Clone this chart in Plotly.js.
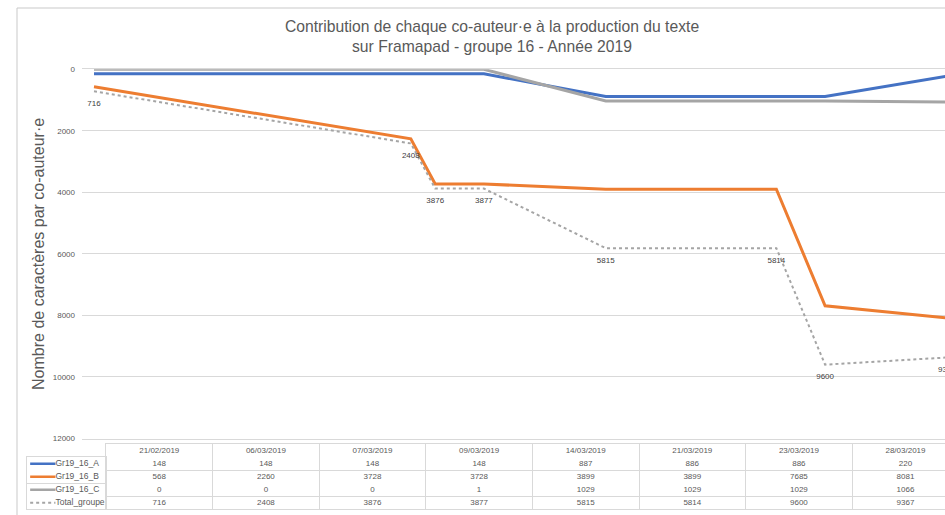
<!DOCTYPE html>
<html>
<head>
<meta charset="utf-8">
<script src="https://cdn.plot.ly/plotly-3.0.1.min.js"></script>
<style>html,body{margin:0;padding:0;background:#fff;}#chart{width:945px;height:515px;}</style>
</head>
<body>
<div id="chart"></div>
<script>
// ---- Data ----
const dates = ['21/02/2019','06/03/2019','07/03/2019','09/03/2019','14/03/2019','21/03/2019','23/03/2019','28/03/2019'];
const serieA = [148,148,148,148,887,886,886,220];
const serieB = [568,2260,3728,3728,3899,3899,7685,8081];
const serieC = [0,0,0,1,1029,1029,1029,1066];
const totalGroupe = [716,2408,3876,3877,5815,5814,9600,9367];
const seriesNames = ['Gr19_16_A','Gr19_16_B','Gr19_16_C','Total_groupe'];
const seriesColors = ['#4472C4','#ED7D31','#A5A5A5','#A5A5A5'];
const yTicks = [0,2000,4000,6000,8000,10000,12000];
const titleText = 'Contribution de chaque co-auteur·e à la production du texte<br>sur Framapad - groupe 16 - Année 2019';
const yTitleText = 'Nombre de caractères par co-auteur·e';

// ---- Helpers ----
const W = 945, H = 515;
const px = x => x / W;
const py = y => 1 - y / H;
const toISO = d => { const p = d.split('/'); return p[2] + '-' + p[1] + '-' + p[0]; };
const isoDates = dates.map(toISO);
const allSeries = [serieA, serieB, serieC, totalGroupe];
const FONT = 'Liberation Sans, Arial, sans-serif';
const GRID = '#D9D9D9';
const TXT = '#595959';

const traces = [];
// main lines
allSeries.forEach((vals, i) => {
  const isTotal = i === 3;
  const t = {
    x: isoDates, y: vals, xaxis: 'x', yaxis: 'y',
    type: 'scatter',
    mode: 'lines',
    line: { color: seriesColors[i], width: isTotal ? 2 : 3, dash: isTotal ? 'dot' : 'solid' },
    hoverinfo: 'skip', showlegend: false
  };
  if (isTotal) {
    t.mode = 'lines+markers+text';
    t.marker = { size: 12, color: 'rgba(0,0,0,0)' };
    t.text = vals.map(String);
    t.textposition = 'bottom center';
    t.textfont = { family: FONT, size: 8, color: '#404040' };
  }
  traces.push(t);
});

// data table: header row + value rows on categorical axes
const rowKeys = ['header'].concat(seriesNames);
traces.push({
  x: dates, y: dates.map(() => 'header'), xaxis: 'x2', yaxis: 'y2',
  type: 'scatter', mode: 'text', text: dates,
  textfont: { family: FONT, size: 8, color: TXT },
  hoverinfo: 'skip', showlegend: false, cliponaxis: false
});
allSeries.forEach((vals, i) => {
  traces.push({
    x: dates, y: dates.map(() => seriesNames[i]), xaxis: 'x2', yaxis: 'y2',
    type: 'scatter', mode: 'text', text: vals.map(String),
    textfont: { family: FONT, size: 8, color: TXT },
    hoverinfo: 'skip', showlegend: false, cliponaxis: false
  });
});
// legend column of the table
seriesNames.forEach((name, i) => {
  traces.push({
    x: [0.04, 0.36], y: [name, name], xaxis: 'x3', yaxis: 'y3',
    type: 'scatter', mode: 'lines',
    line: { color: seriesColors[i], width: i === 3 ? 2 : 2.5, dash: i === 3 ? 'dot' : 'solid' },
    hoverinfo: 'skip', showlegend: false
  });
  traces.push({
    x: [0.36], y: [name], xaxis: 'x3', yaxis: 'y3',
    type: 'scatter', mode: 'text', text: [name], textposition: 'middle right',
    textfont: { family: FONT, size: 8.5, color: TXT },
    hoverinfo: 'skip', showlegend: false, cliponaxis: false
  });
});

const colW = 106.6;
const layout = {
  width: W, height: H,
  margin: { l: 0, r: 0, t: 0, b: 0 },
  paper_bgcolor: '#fff', plot_bgcolor: 'rgba(0,0,0,0)',
  font: { family: FONT, color: TXT },
  showlegend: false,
  title: {
    text: titleText,
    font: { family: FONT, size: 15.7, color: TXT },
    x: px(492), xanchor: 'center', xref: 'paper',
    y: py(32), yanchor: 'middle', yref: 'container'
  },
  xaxis: {
    type: 'date', domain: [px(82), 1],
    range: ['2019-02-20 12:11', '2019-03-27 22:05'],
    showgrid: false, showticklabels: false, zeroline: false, ticks: '',
    showline: true, mirror: true, linecolor: GRID, linewidth: 1, layer: 'below traces',
    anchor: 'y'
  },
  yaxis: {
    domain: [py(438.5), py(69.3)],
    range: [12000, 0], tickvals: yTicks, ticktext: yTicks.map(String),
    showgrid: true, gridcolor: GRID, gridwidth: 1,
    zeroline: false, showline: false, ticks: '', layer: 'below traces',
    tickfont: { family: FONT, size: 8, color: TXT },
    ticklabelstandoff: 6,
    title: { text: yTitleText, font: { family: FONT, size: 16, color: TXT }, standoff: 4 },
    anchor: 'x'
  },
  xaxis2: {
    type: 'category', categoryorder: 'array', categoryarray: dates,
    domain: [px(106), 1],
    range: [-0.5, -0.5 + (W - 106) / colW],
    tickson: 'boundaries', showgrid: true, gridcolor: GRID, gridwidth: 1,
    showticklabels: false, ticks: '', zeroline: false,
    showline: true, linecolor: GRID, mirror: true, linewidth: 1,
    anchor: 'y2'
  },
  yaxis2: {
    type: 'category', categoryorder: 'array', categoryarray: rowKeys,
    domain: [py(509.3), py(444.3)],
    range: [rowKeys.length - 0.5, -0.5],
    tickson: 'boundaries', showgrid: true, gridcolor: GRID, gridwidth: 1,
    showticklabels: false, ticks: '', zeroline: false,
    showline: true, linecolor: GRID, mirror: false, linewidth: 1,
    anchor: 'x2'
  },
  xaxis3: {
    domain: [px(27), px(106)], range: [0, 1],
    showgrid: false, showticklabels: false, ticks: '', zeroline: false,
    showline: true, linecolor: GRID, mirror: true, linewidth: 1,
    anchor: 'y3'
  },
  yaxis3: {
    type: 'category', categoryorder: 'array', categoryarray: seriesNames,
    domain: [py(509.3), py(457.3)],
    range: [seriesNames.length - 0.5, -0.5],
    tickson: 'boundaries', showgrid: true, gridcolor: GRID, gridwidth: 1,
    showticklabels: false, ticks: '', zeroline: false,
    showline: true, linecolor: GRID, mirror: true, linewidth: 1,
    anchor: 'x3'
  },
  shapes: [{
    type: 'rect', xref: 'paper', yref: 'paper',
    x0: px(17), x1: 1.2, y0: -0.2, y1: py(8),
    line: { color: '#C9C9C9', width: 1 }, fillcolor: 'rgba(0,0,0,0)', layer: 'below'
  }]
};

Plotly.newPlot('chart', traces, layout, { staticPlot: true, displayModeBar: false });
</script>
</body>
</html>
